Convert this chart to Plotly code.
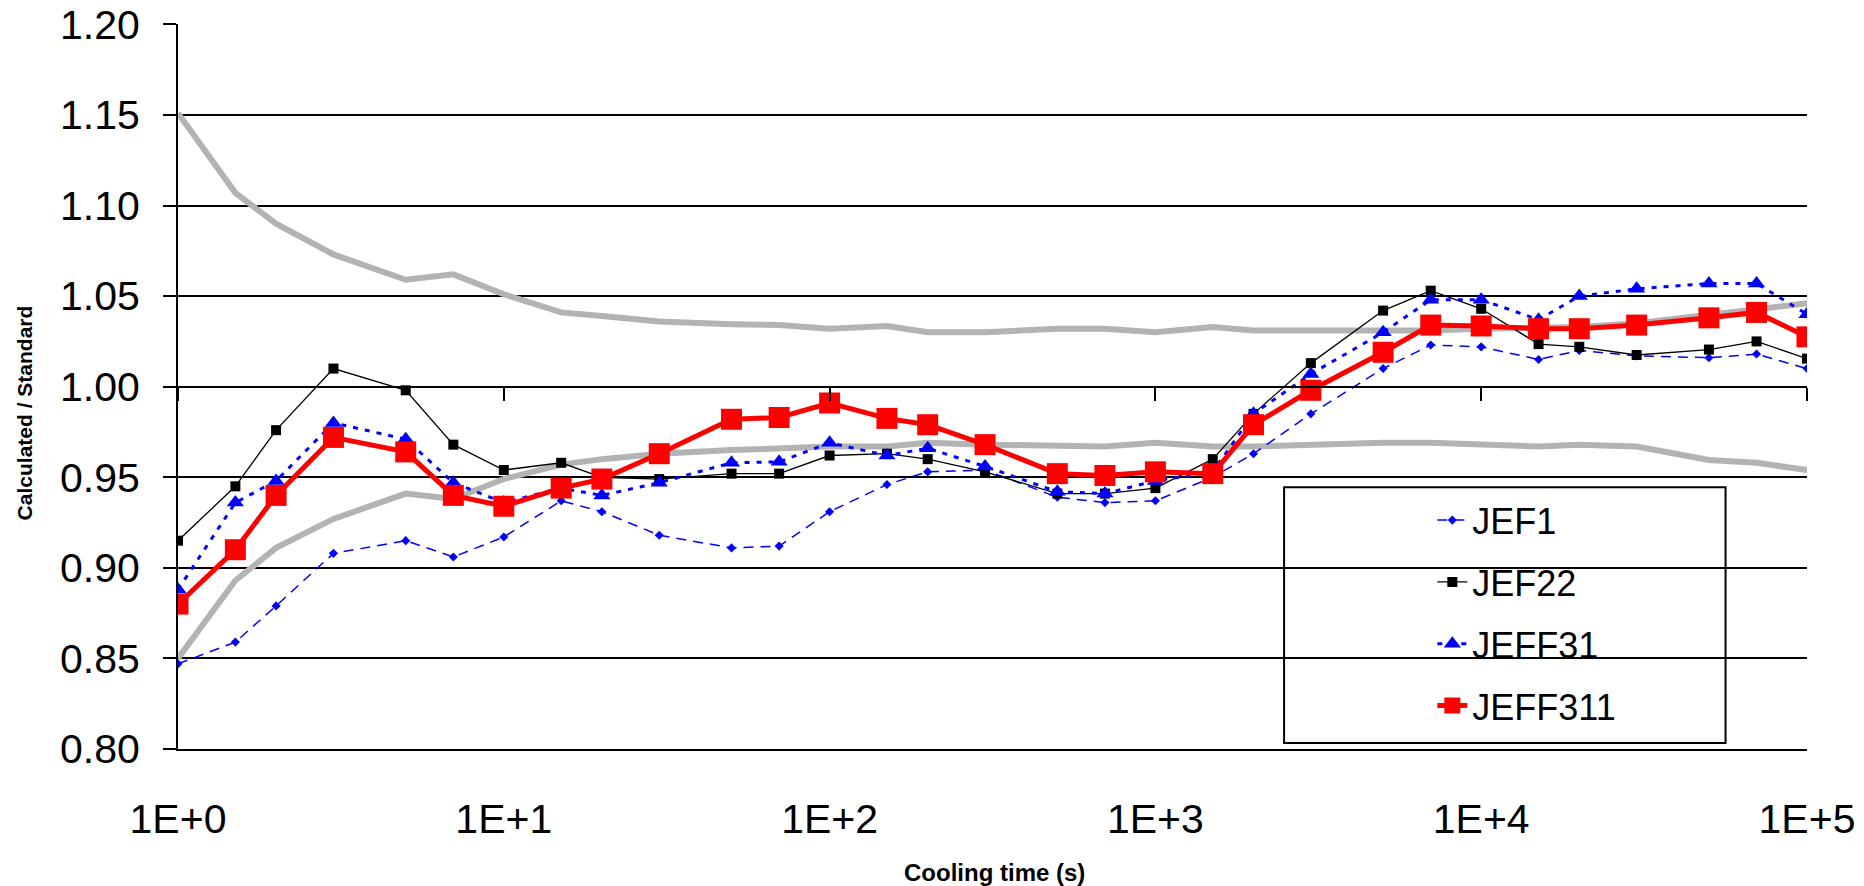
import plotly.graph_objects as go

cooling_time = [1, 1.5, 2, 3, 5, 7, 10, 15, 20, 30, 50, 70, 100, 150, 200, 300, 500, 700,
                1000, 1500, 2000, 3000, 5000, 7000, 10000, 15000, 20000, 30000, 50000, 70000, 100000]

jef1 = [0.847, 0.859, 0.879, 0.908, 0.915, 0.906, 0.917, 0.937, 0.931, 0.918, 0.911, 0.912,
        0.931, 0.946, 0.953, 0.954, 0.939, 0.936, 0.937, 0.950, 0.963, 0.985, 1.010, 1.023,
        1.022, 1.015, 1.020, 1.017, 1.016, 1.018, 1.010]

jef22 = [0.915, 0.945, 0.976, 1.010, 0.998, 0.968, 0.954, 0.958, 0.950, 0.949, 0.952, 0.952,
         0.962, 0.963, 0.960, 0.953, 0.941, 0.941, 0.944, 0.960, 0.985, 1.013, 1.042, 1.053,
         1.043, 1.0235, 1.022, 1.0175, 1.0205, 1.025, 1.0155]

jeff31 = [0.888, 0.936, 0.948, 0.980, 0.971, 0.947, 0.936, 0.944, 0.940, 0.947, 0.958, 0.9585,
          0.969, 0.962, 0.966, 0.956, 0.942, 0.941, 0.948, 0.953, 0.985, 1.007, 1.030, 1.048,
          1.048, 1.037, 1.050, 1.054, 1.057, 1.057, 1.040]

jeff311 = [0.880, 0.910, 0.940, 0.972, 0.964, 0.940, 0.934, 0.944, 0.949, 0.963, 0.982, 0.983,
           0.991, 0.9825, 0.979, 0.968, 0.952, 0.951, 0.953, 0.952, 0.979, 0.998, 1.019, 1.034,
           1.0335, 1.032, 1.032, 1.034, 1.038, 1.041, 1.0275]

band_upper = [1.151, 1.107, 1.090, 1.073, 1.059, 1.062, 1.051, 1.041, 1.039, 1.036, 1.0345, 1.034,
              1.032, 1.0335, 1.030, 1.030, 1.032, 1.032, 1.030, 1.033, 1.031, 1.031, 1.031, 1.031,
              1.032, 1.0325, 1.033, 1.035, 1.040, 1.0425, 1.046]

band_lower = [0.850, 0.893, 0.911, 0.927, 0.941, 0.938, 0.949, 0.957, 0.960, 0.963, 0.965, 0.966,
              0.967, 0.967, 0.969, 0.968, 0.967, 0.967, 0.969, 0.967, 0.967, 0.968, 0.969, 0.969,
              0.968, 0.967, 0.968, 0.967, 0.9595, 0.958, 0.954]

x_tick_vals = [1, 10, 100, 1000, 10000, 100000]
x_tick_text = ["1E+0", "1E+1", "1E+2", "1E+3", "1E+4", "1E+5"]
y_tick_vals = [0.80, 0.85, 0.90, 0.95, 1.00, 1.05, 1.10, 1.15, 1.20]
y_tick_text = ["0.80", "0.85", "0.90", "0.95", "1.00", "1.05", "1.10", "1.15", "1.20"]

FONT = "Liberation Sans, Arial, sans-serif"
GRAY = "#b3b3b3"

fig = go.Figure()

for band in (band_upper, band_lower):
    fig.add_trace(go.Scatter(x=cooling_time, y=band, mode="lines",
                             line=dict(color=GRAY, width=6), showlegend=False,
                             hoverinfo="skip"))

fig.add_trace(go.Scatter(x=cooling_time, y=jef1, name="JEF1", mode="lines+markers",
                         legendgroup="a",
                         line=dict(color="#0000ff", width=1.5, dash="10px,7px"),
                         marker=dict(symbol="diamond", size=7, color="#0000ff")))
fig.add_trace(go.Scatter(x=cooling_time, y=jef22, name="JEF22", mode="lines+markers",
                         legendgroup="b",
                         line=dict(color="#000000", width=1.3),
                         marker=dict(symbol="square", size=10, color="#000000")))
fig.add_trace(go.Scatter(x=cooling_time, y=jeff31, name="JEFF31", mode="lines+markers",
                         legendgroup="c",
                         line=dict(color="#0000ff", width=3, dash="5px,7px"),
                         marker=dict(symbol="triangle-up", size=15, color="#0000ff")))
fig.add_trace(go.Scatter(x=cooling_time, y=jeff311, name="JEFF311", mode="lines+markers",
                         legendgroup="d",
                         line=dict(color="#ff0000", width=5),
                         marker=dict(symbol="square", size=21, color="#ff0000")))

# invisible trace to carry the crossing axis at 1.00
fig.add_trace(go.Scatter(x=cooling_time, y=jeff311, xaxis="x2", mode="lines",
                         line=dict(width=0, color="rgba(0,0,0,0)"), showlegend=False,
                         hoverinfo="skip"))

fig.update_layout(
    width=1856, height=878,
    margin=dict(l=170, r=57, t=16, b=137, autoexpand=False),
    paper_bgcolor="white", plot_bgcolor="white",
    font=dict(family=FONT, color="#000000", size=41),
    xaxis=dict(type="log", range=[0, 5], tickvals=x_tick_vals, ticktext=x_tick_text,
               showgrid=False, zeroline=False, showline=True, linecolor="#000000",
               linewidth=2, ticks="", ticklabelstandoff=33, automargin=False,
               ticklabeloverflow="allow", tickfont=dict(size=41, family=FONT)),
    xaxis2=dict(type="log", range=[0, 5], overlaying="x", anchor="free", position=0.5,
                tickvals=x_tick_vals, showticklabels=False, showgrid=False, zeroline=False,
                showline=True, linecolor="#000000", linewidth=2, ticks="outside",
                ticklen=13, tickwidth=2, tickcolor="#000000", automargin=False),
    yaxis=dict(range=[0.80, 1.2002], tickvals=y_tick_vals, ticktext=y_tick_text,
               showgrid=True, gridcolor="#000000", gridwidth=2, zeroline=False,
               showline=True, linecolor="#000000", linewidth=2, ticks="outside",
               ticklen=13, tickwidth=2, tickcolor="#000000", ticklabelstandoff=15,
               automargin=False, ticklabeloverflow="allow",
               tickfont=dict(size=41, family=FONT)),
    legend=dict(x=0.770, y=0.357, xanchor="left", yanchor="top",
                bgcolor="rgba(0,0,0,0)", borderwidth=0,
                font=dict(size=36, family=FONT), tracegroupgap=12),
    shapes=[dict(type="rect", xref="paper", yref="paper", x0=0.679, x1=0.950,
                 y0=0.0083, y1=0.361, line=dict(color="#000000", width=2),
                 fillcolor="white", layer="between")],
    annotations=[
        dict(text="<b>Calculated / Standard</b>", xref="paper", yref="paper",
             x=-0.0945, y=0.463, xanchor="center", yanchor="middle", textangle=-90,
             showarrow=False, font=dict(size=21, family=FONT)),
        dict(text="<b>Cooling time (s)</b>", xref="paper", yref="paper",
             x=0.501, y=-0.1697, xanchor="center", yanchor="middle",
             showarrow=False, font=dict(size=24, family=FONT)),
    ],
)

fig.write_html("out.html")
